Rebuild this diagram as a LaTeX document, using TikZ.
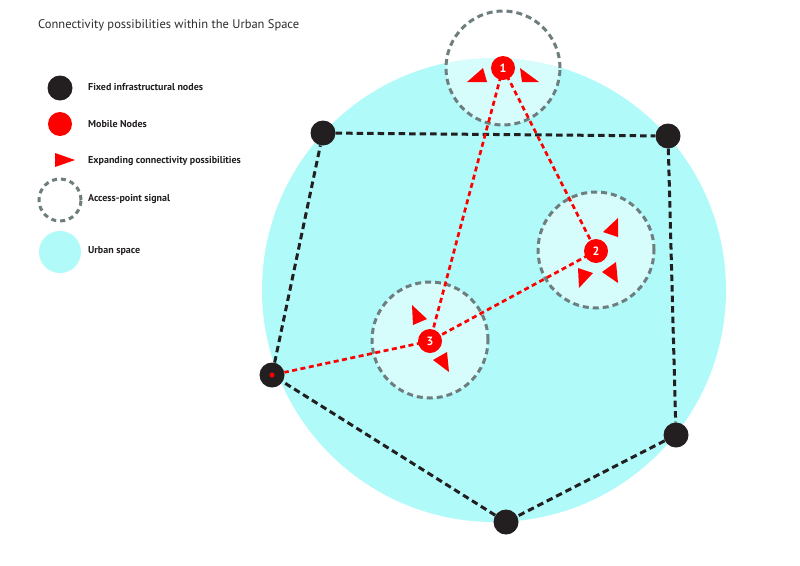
\documentclass[tikz,border=0pt]{standalone}
\usepackage{fontspec}
\setmainfont{PT Sans}
\usepackage{tikz}
\usetikzlibrary{calc}
\definecolor{UrbanColor}{RGB}{176,250,250}
\definecolor{SignalColor}{RGB}{110,125,126}
\definecolor{FixedColor}{RGB}{35,31,32}
\definecolor{MobileColor}{RGB}{255,0,0}
\definecolor{TitleColor}{RGB}{45,45,45}

\begin{document}
\begin{tikzpicture}[x=1pt,y=-1pt,
  fixed/.style={circle, fill=FixedColor, minimum size=25pt, inner sep=0pt},
  mobile/.style={circle, fill=MobileColor, minimum size=24pt, inner sep=0pt, text=white, font=\fontsize{12}{12}\selectfont\bfseries},
  signal/.style={circle, draw=SignalColor, line width=3pt, dash pattern=on 6pt off 4pt, inner sep=0pt},
  wire/.style={draw=FixedColor, line width=3pt, dash pattern=on 6.5pt off 4pt},
  link/.style={draw=MobileColor, line width=2.7pt, dash pattern=on 5pt off 3.5pt},
  spread/.style={fill=MobileColor},
  legend/.style={anchor=west, inner sep=0pt, text=FixedColor, font=\fontsize{10}{12}\selectfont\bfseries}]

  \fill[white] (0,0) rectangle (800,565);
  \useasboundingbox (0,0) rectangle (800,565);

  \node[anchor=west, inner sep=0pt, text=TitleColor, font=\fontsize{12.5}{14}\selectfont] (title) at (38,25) {Connectivity possibilities within the Urban Space};

  % Legend
  \node[fixed] (keyfixed) at (60,88) {};
  \node[legend] at (88,87) {Fixed infrastructural nodes};
  \node[circle, fill=MobileColor, minimum size=24pt, inner sep=0pt] (keymobile) at (60,124) {};
  \node[legend] at (88,124) {Mobile Nodes};
  \fill[spread] (55,153) -- (75,160) -- (55,167) -- cycle;
  \node[legend] at (88,161) {Expanding connectivity possibilities};
  \node[signal, minimum size=42pt, dash pattern=on 5pt off 4pt] (keysignal) at (60,200) {};
  \node[legend] at (88,199) {Access-point signal};
  \node[circle, fill=UrbanColor, minimum size=42pt, inner sep=0pt] (keyurban) at (60,252) {};
  \node[legend] at (88,251) {Urban space};

  % Urban space and access points
  \node[circle, fill=UrbanColor, minimum size=464pt, inner sep=0pt] (urban) at (494,290) {};
  \node[signal, fill=white, fill opacity=0.5, minimum size=114pt] (ap1) at (503,68) {};
  \node[signal, fill=white, fill opacity=0.5, minimum size=116pt] (ap2) at (596,250) {};
  \node[signal, fill=white, fill opacity=0.5, minimum size=116pt] (ap3) at (430,340) {};

  % Fixed nodes
  \node[fixed] (f1) at (323,133) {};
  \node[fixed] (f2) at (668,136) {};
  \node[fixed] (f3) at (676,435) {};
  \node[fixed] (f4) at (506,522) {};
  \node[fixed] (f5) at (272,375) {};
  \draw[wire] (f1) -- (f2) -- (f3) -- (f4) -- (f5) -- (f1);
  \node[circle, fill=MobileColor, minimum size=5pt, inner sep=0pt] (f5dot) at (f5.center) {};

  % Mobile nodes
  \coordinate (m1c) at (503,68);
  \coordinate (m2c) at (596,251);
  \coordinate (m3c) at (430,341);
  \draw[link] (m1c) -- (m3c);
  \draw[link] (m1c) -- (m2c);
  \draw[link] (m2c) -- (m3c);
  \draw[link] (m3c) -- (f5);
  \node[mobile] (m1) at (m1c) {1};
  \node[mobile] (m2) at (m2c) {2};
  \node[mobile] (m3) at (m3c) {3};

  % Expanding arrows
  \fill[spread] (m1) ++(-36,14) -- ++(20,0) -- ++(-4,-14) -- cycle;
  \fill[spread] (m1) ++(17,0) -- ++(2,14) -- ++(17,0) -- cycle;
  \fill[spread] (m2) ++(7,-19) -- ++(15,-14) -- ++(0,19) -- cycle;
  \fill[spread] (m2) ++(-18,17) -- ++(15,5) -- ++(-14,15) -- cycle;
  \fill[spread] (m2) ++(6,21) -- ++(14,-10) -- ++(2,21) -- cycle;
  \fill[spread] (m3) ++(-18,-36) -- ++(15,14) -- ++(-14,6) -- cycle;
  \fill[spread] (m3) ++(3,19) -- ++(14,-8) -- ++(2,20) -- cycle;

\end{tikzpicture}
\end{document}
